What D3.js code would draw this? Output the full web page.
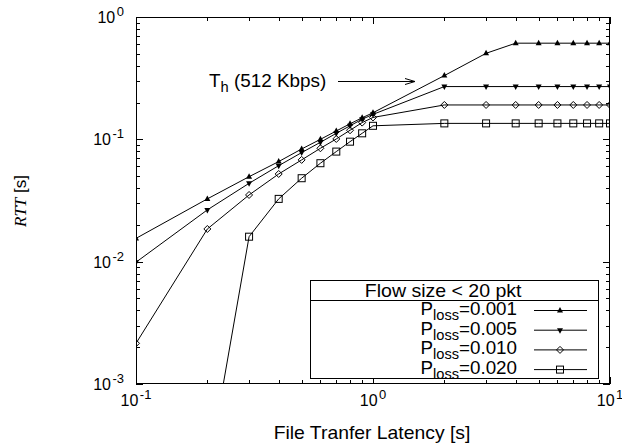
<!DOCTYPE html>
<html><head><meta charset="utf-8">
<script src="https://cdn.jsdelivr.net/npm/d3@7"></script>
<style>body{margin:0;background:#fff}svg{display:block}text{font-family:"Liberation Sans",Arial,sans-serif;fill:#000}</style>
</head><body><svg id="c" width="622" height="446"></svg>
<script>
const latency = [0.1,0.2,0.3,0.4,0.5,0.6,0.7,0.8,0.9,1,2,3,4,5,6,7,8,9,10];
const rtt001 = [0.0155,0.0326,0.0495,0.0658,0.0834,0.100,0.117,0.134,0.150,0.165,0.332,0.505,0.611,0.611,0.611,0.611,0.611,0.611,0.611];
const rtt005 = [0.0099,0.0265,0.0437,0.0609,0.0779,0.0946,0.112,0.129,0.146,0.160,0.270,0.270,0.270,0.270,0.270,0.270,0.270,0.270,0.270];
const rtt010 = [0.00215,0.0185,0.0351,0.0521,0.0679,0.0845,0.1007,0.1186,0.137,0.151,0.191,0.191,0.191,0.191,0.191,0.191,0.191,0.191,0.191];
const rtt020 = [null,0.00018,0.016,0.0326,0.0481,0.0638,0.0794,0.0957,0.112,0.129,0.135,0.135,0.135,0.135,0.135,0.135,0.135,0.135,0.135];
const seriesNames = ["0.001","0.005","0.010","0.020"];
const seriesMarkers = ["triUp","triDown","diamond","square"];
const xTickExp = [-1,0,1];
const yTickExp = [-3,-2,-1,0];

const svg = d3.select("#c");
const L=136,R=610,T=17,B=384;
const x = d3.scaleLog().domain([0.1,10]).range([L,R]);
const y = d3.scaleLog().domain([1e-3,1]).range([B,T]);

svg.append("defs").append("clipPath").attr("id","clip").append("rect")
  .attr("x",L).attr("y",T).attr("width",R-L).attr("height",B-T);

// stretched text helper
function stext(g, px, py, size, sx, anchor){
  return g.append("g").attr("transform",`translate(${px},${py}) scale(${sx},1)`)
    .append("text").attr("x",0).attr("y",0).attr("font-size",size).attr("text-anchor",anchor);
}

// minor ticks
const minorX=[], minorY=[];
[0.1,1].forEach(d=>{for(let k=2;k<10;k++)minorX.push(d*k);});
[0.001,0.01,0.1].forEach(d=>{for(let k=2;k<10;k++)minorY.push(d*k);});
const tk = svg.append("g").attr("stroke","#000").attr("stroke-width",1);
minorX.forEach(v=>{const px=Math.round(x(v))+0.5;
  tk.append("line").attr("x1",px).attr("x2",px).attr("y1",B).attr("y2",B-4);
  tk.append("line").attr("x1",px).attr("x2",px).attr("y1",T).attr("y2",T+4);});
minorY.forEach(v=>{const py=Math.round(y(v))+0.5;
  tk.append("line").attr("x1",L).attr("x2",L+4).attr("y1",py).attr("y2",py);
  tk.append("line").attr("x1",R).attr("x2",R-4).attr("y1",py).attr("y2",py);});
xTickExp.forEach(e=>{const px=Math.round(x(Math.pow(10,e)))+0.5;
  tk.append("line").attr("x1",px).attr("x2",px).attr("y1",B).attr("y2",B-7);
  tk.append("line").attr("x1",px).attr("x2",px).attr("y1",T).attr("y2",T+7);});
yTickExp.forEach(e=>{const py=Math.round(y(Math.pow(10,e)))+0.5;
  tk.append("line").attr("x1",L).attr("x2",L+7).attr("y1",py).attr("y2",py);
  tk.append("line").attr("x1",R).attr("x2",R-7).attr("y1",py).attr("y2",py);});

svg.append("rect").attr("x",L+0.5).attr("y",T+0.5).attr("width",R-L-1).attr("height",B-T-1)
  .attr("fill","none").attr("stroke","#000").attr("stroke-width",1);

// tick labels
function powLabel(g, e, px, py, anchor){
  const t=g.append("text").attr("x",px).attr("y",py).attr("font-size",16).attr("text-anchor",anchor);
  t.append("tspan").text("10");
  t.append("tspan").attr("dy",-7).attr("dx",1.5).attr("font-size",13).text(String(e));
}
yTickExp.forEach(e=>powLabel(svg,e,124,y(Math.pow(10,e))+6,"end"));
xTickExp.forEach(e=>powLabel(svg,e,x(Math.pow(10,e)),406,"middle"));

// axis titles
stext(svg,372,439,18,1.075,"middle").text("File Tranfer Latency [s]");
const yt = svg.append("text").attr("transform","translate(26,201) rotate(-90)").attr("text-anchor","middle").attr("font-size",17);
yt.append("tspan").attr("font-family","'Liberation Serif','Times New Roman',serif").attr("font-style","italic").text("RTT");
yt.append("tspan").text(" [s]");

// markers
function marker(g,type,cx,cy){
  if(type==="triUp") g.append("path").attr("d",`M${cx},${cy-3.5}L${cx+3},${cy+2}L${cx-3},${cy+2}Z`).attr("fill","#000");
  else if(type==="triDown") g.append("path").attr("d",`M${cx},${cy+3.5}L${cx+3},${cy-2}L${cx-3},${cy-2}Z`).attr("fill","#000");
  else if(type==="diamond") g.append("path").attr("d",`M${cx},${cy-3.5}L${cx+3.5},${cy}L${cx},${cy+3.5}L${cx-3.5},${cy}Z`).attr("fill","none").attr("stroke","#000");
  else g.append("rect").attr("x",cx-3.5).attr("y",cy-3.5).attr("width",7).attr("height",7).attr("fill","none").attr("stroke","#000");
}

const allSeries=[rtt001,rtt005,rtt010,rtt020];
const line=d3.line().defined(d=>d[1]!=null).x(d=>x(d[0])).y(d=>y(d[1]));
const plot=svg.append("g").attr("clip-path","url(#clip)");
allSeries.forEach((s,i)=>{
  const pts=latency.map((v,j)=>[v,s[j]]);
  plot.append("path").attr("d",line(pts)).attr("fill","none").attr("stroke","#000").attr("stroke-width",1);
  const mg=plot.append("g");
  pts.filter(d=>d[1]!=null&&d[1]>=1e-3).forEach(d=>marker(mg,seriesMarkers[i],x(d[0]),y(d[1])));
});

// annotation
const ann=stext(svg,209,87,18,1.05,"start");
ann.append("tspan").text("T");
ann.append("tspan").attr("dy",5).attr("font-size",14).text("h");
ann.append("tspan").attr("dy",-5).text(" (512 Kbps)");
const ag=svg.append("g").attr("stroke","#000").attr("fill","none");
ag.append("line").attr("x1",338).attr("x2",415).attr("y1",81.5).attr("y2",81.5);
ag.append("path").attr("d","M405,78.5L415,81.5L405,84.5");

// legend
const lg=svg.append("g");
lg.append("rect").attr("x",310.5).attr("y",280.5).attr("width",288).attr("height",98).attr("fill","#fff").attr("stroke","#000");
lg.append("line").attr("x1",310.5).attr("x2",598.5).attr("y1",300.5).attr("y2",300.5).attr("stroke","#000");
stext(lg,521.5,297,18,1.085,"end").text("Flow size < 20 pkt");
seriesNames.forEach((n,i)=>{
  const cy=310+i*19.7;
  const t=stext(lg,517,cy+5,18,1.045,"end");
  t.append("tspan").text("P");
  t.append("tspan").attr("dy",5).attr("font-size",14).text("loss");
  t.append("tspan").attr("dy",-5).text("="+n);
  lg.append("line").attr("x1",534).attr("x2",587).attr("y1",cy+0.5).attr("y2",cy+0.5).attr("stroke","#000");
  marker(lg,seriesMarkers[i],560,cy+0.5);
});
</script></body></html>
